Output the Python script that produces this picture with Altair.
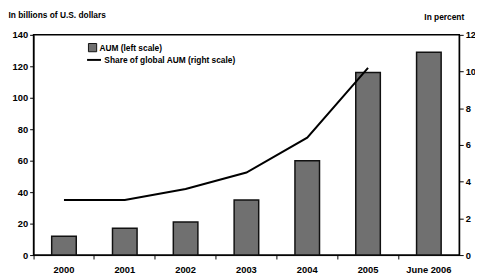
import altair as alt
import pandas as pd

categories = ["2000", "2001", "2002", "2003", "2004", "2005", "June 2006"]
aum = [12, 17, 21, 35, 60, 116, 129]
share = [3.0, 3.0, 3.6, 4.5, 6.4, 10.2, None]

df = pd.DataFrame({
    "cat": categories,
    "aum": aum,
    "share": share,
    "s1": ["AUM (left scale)"] * len(categories),
    "s2": ["Share of global AUM (right scale)"] * len(categories),
})

FONT = "Liberation Sans"

x = alt.X("cat:N", sort=categories, title=None,
          scale=alt.Scale(paddingInner=0, paddingOuter=0),
          axis=alt.Axis(labelAngle=0, bandPosition=0, tickSize=4, labelPadding=6,
                        domainColor="black", tickColor="black", labelColor="black",
                        labelFont=FONT, labelFontSize=9.5, labelFontWeight="bold"))

bars = alt.Chart(df).mark_bar(size=25, stroke="#111", strokeWidth=1.5).encode(
    x=x,
    y=alt.Y("aum:Q", scale=alt.Scale(domain=[0, 140]),
            axis=alt.Axis(values=list(range(0, 141, 20)), orient="left", grid=False,
                          tickSize=4, domainColor="black", tickColor="black",
                          labelColor="black", labelFont=FONT, labelFontSize=9.5,
                          labelFontWeight="bold",
                          title="In billions of U.S. dollars", titleAngle=0,
                          titleAlign="left", titleBaseline="bottom", titleX=-26, titleY=-16,
                          titleFont=FONT, titleFontSize=8.5, titleFontWeight="bold",
                          titleColor="black")),
    fill=alt.Fill("s1:N", scale=alt.Scale(range=["#707070"]),
                  legend=alt.Legend(orient="none", legendX=55, legendY=8, title=None,
                                    symbolType="square", symbolSize=70,
                                    symbolStrokeColor="#111", symbolStrokeWidth=1,
                                    labelFont=FONT, labelFontSize=8.5, labelFontWeight="bold",
                                    labelColor="black", labelOffset=2)),
)

line = alt.Chart(df).mark_line(color="black", strokeWidth=2).encode(
    x=x,
    y=alt.Y("share:Q", scale=alt.Scale(domain=[0, 12]),
            axis=alt.Axis(values=list(range(0, 13, 2)), orient="right", grid=False,
                          tickSize=4, domainColor="black", tickColor="black",
                          labelColor="black", labelFont=FONT, labelFontSize=9.5,
                          labelFontWeight="bold",
                          title="In percent", titleAngle=0,
                          titleAlign="left", titleBaseline="bottom", titleX=-36, titleY=-14,
                          titleFont=FONT, titleFontSize=8.5, titleFontWeight="bold",
                          titleColor="black")),
    stroke=alt.Stroke("s2:N", scale=alt.Scale(range=["black"]),
                      legend=alt.Legend(orient="none", legendX=53, legendY=17, title=None,
                                        symbolType="stroke", symbolSize=200,
                                        symbolStrokeWidth=2,
                                        labelFont=FONT, labelFontSize=8.5, labelFontWeight="bold",
                                        labelColor="black", labelOffset=2)),
)

chart = alt.layer(bars, line).resolve_scale(y="independent").properties(
    width=433, height=224,
    autosize=alt.AutoSizeParams(type="none"),
    padding={"left": 26, "top": 25, "right": 16, "bottom": 20},
    background="white",
).configure_view(stroke="black", strokeWidth=1.5)

chart.save("out.html", embed_options={"renderer": "svg", "actions": False})
